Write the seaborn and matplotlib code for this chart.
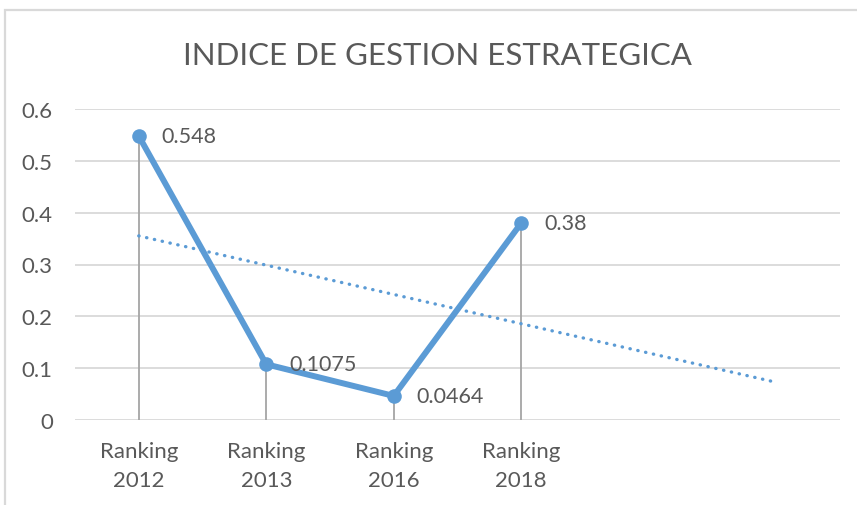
import numpy as np
import pandas as pd
import matplotlib
matplotlib.use("Agg")
import matplotlib.pyplot as plt
from matplotlib.patches import Rectangle
import seaborn as sns

# Data
categories = ["Ranking\n2012", "Ranking\n2013", "Ranking\n2016", "Ranking\n2018"]
values = [0.548, 0.1075, 0.0464, 0.38]
value_labels = ["0.548", "0.1075", "0.0464", "0.38"]
yticks = [0, 0.1, 0.2, 0.3, 0.4, 0.5, 0.6]
ytick_labels = ["0", "0.1", "0.2", "0.3", "0.4", "0.5", "0.6"]
forecast_periods = 2

sns.set_theme(style="white")
plt.rcParams["font.family"] = ["Lato", "DejaVu Sans"]

BLUE = "#5B9BD5"
GRID = "#D9D9D9"
DROP = "#A5A5A5"
TEXT = "#595959"

fig = plt.figure(figsize=(8.57, 5.06), dpi=100)
ax = fig.add_axes([75 / 857, 1 - 421 / 506, (840 - 75) / 857, (421 - 110) / 506])

df = pd.DataFrame({"pos": np.arange(len(values)), "value": values})

# Linear trendline, extended forward
coef = np.polyfit(df["pos"], df["value"], 1)
trend_x = np.array([0, len(values) - 1 + forecast_periods])
trend_y = np.polyval(coef, trend_x)
ax.plot(trend_x, trend_y, color=BLUE, lw=2.4, linestyle=(0, (0.1, 2.3)),
        dash_capstyle="round", zorder=2)

# Drop lines from each point to the axis
ax.vlines(df["pos"], 0, df["value"], color=DROP, lw=1.3, zorder=1)

sns.lineplot(data=df, x="pos", y="value", ax=ax, color=BLUE, lw=4.3,
             marker="o", markersize=10.5, markeredgewidth=0, zorder=3)

for x, y, lab in zip(df["pos"], df["value"], value_labels):
    ax.text(x + 0.18, y, lab, fontsize=15.5, color=TEXT, va="center", ha="left", zorder=4)

ax.set_xlim(-0.5, len(values) - 1 + forecast_periods + 0.5)
ax.set_ylim(0, 0.6)
ax.set_yticks(yticks)
ax.set_yticklabels(ytick_labels, fontsize=16, color=TEXT)
ax.set_xticks(range(len(categories)))
ax.set_xticklabels(categories, fontsize=16, color=TEXT, linespacing=1.6)
ax.tick_params(axis="both", length=0)
ax.tick_params(axis="x", pad=15)
ax.tick_params(axis="y", pad=16)
ax.set_xlabel("")
ax.set_ylabel("")
ax.grid(axis="y", color=GRID, lw=1.3)
ax.set_axisbelow(True)
for s in ax.spines.values():
    s.set_visible(False)

fig.text(437 / 857, 1 - 56 / 506, "INDICE DE GESTION ESTRATEGICA", fontsize=22.5,
         fontweight="normal", color=TEXT, ha="center", va="center")

# Chart frame
fig.add_artist(Rectangle((5 / 857, -0.2), 1.5, 1.2 - 11 / 506,
                         transform=fig.transFigure, fill=False,
                         edgecolor=GRID, lw=1.6))

fig.savefig("out.png", dpi=100, facecolor="white")
